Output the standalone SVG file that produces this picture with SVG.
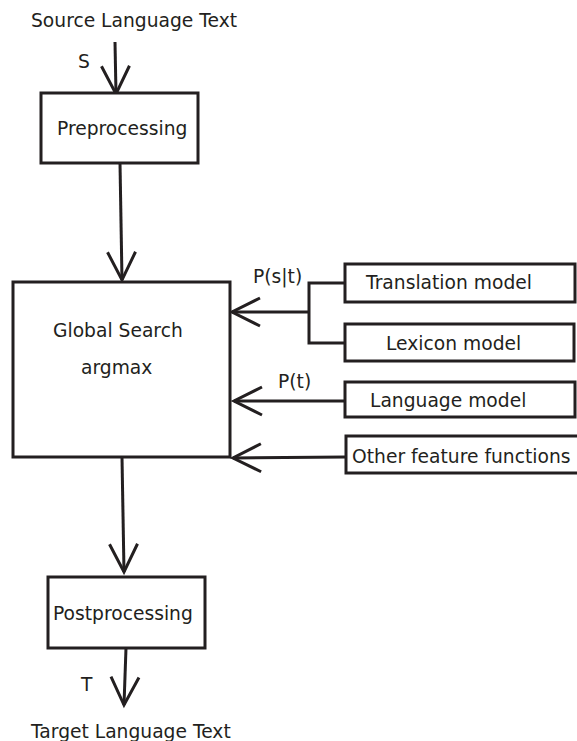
<svg xmlns="http://www.w3.org/2000/svg" width="577" height="741" viewBox="0 0 577 741">
<style>
text{font-family:"DejaVu Sans","Liberation Sans",sans-serif;font-size:18.7px;fill:#231f20}
.box{fill:#fff;stroke:#231f20;stroke-width:3}
.ln{fill:none;stroke:#231f20;stroke-width:3}
</style>
<defs>
<marker id="v" markerUnits="userSpaceOnUse" markerWidth="40" markerHeight="40" viewBox="-34 -20 40 40" refX="0" refY="0" orient="auto" overflow="visible">
<path d="M-28,-14 L0,0 L-28,14" fill="none" stroke="#231f20" stroke-width="3"/>
</marker>
</defs>
<rect width="577" height="741" fill="#fff"/>
<text x="31" y="27">Source Language Text</text>
<text x="78" y="68">S</text>
<text x="253" y="283">P(s|t)</text>
<text x="278" y="388">P(t)</text>
<text x="81" y="691">T</text>
<text x="31" y="738">Target Language Text</text>
<g id="connectors">
<path class="ln" d="M115,42 L116,94" marker-end="url(#v)"/>
<path class="ln" d="M120,163 L122,280" marker-end="url(#v)"/>
<path class="ln" d="M345,283 H309 V343 H345"/>
<path class="ln" d="M309,312 H232" marker-end="url(#v)"/>
<path class="ln" d="M345,401 H234" marker-end="url(#v)"/>
<path class="ln" d="M346,457 L233,458" marker-end="url(#v)"/>
<path class="ln" d="M122,457 L124,572" marker-end="url(#v)"/>
<path class="ln" d="M126,648 L124,705" marker-end="url(#v)"/>
</g>
<g id="preprocessing"><rect class="box" x="41" y="93" width="157" height="70"/><text x="57" y="135">Preprocessing</text></g>
<g id="global-search"><rect class="box" x="13" y="282" width="217" height="175"/><text x="53" y="337">Global Search</text><text x="81" y="374">argmax</text></g>
<g id="translation-model"><rect class="box" x="345" y="264" width="230" height="38"/><text x="366" y="289">Translation model</text></g>
<g id="lexicon-model"><rect class="box" x="345" y="324" width="229" height="37"/><text x="386" y="350">Lexicon model</text></g>
<g id="language-model"><rect class="box" x="345" y="382" width="230" height="35"/><text x="370" y="407">Language model</text></g>
<g id="other-feature-functions"><rect class="box" x="346" y="436" width="233" height="37"/><text x="352" y="463">Other feature functions</text></g>
<g id="postprocessing"><rect class="box" x="48" y="577" width="157" height="71"/><text x="53" y="620">Postprocessing</text></g>
</svg>
